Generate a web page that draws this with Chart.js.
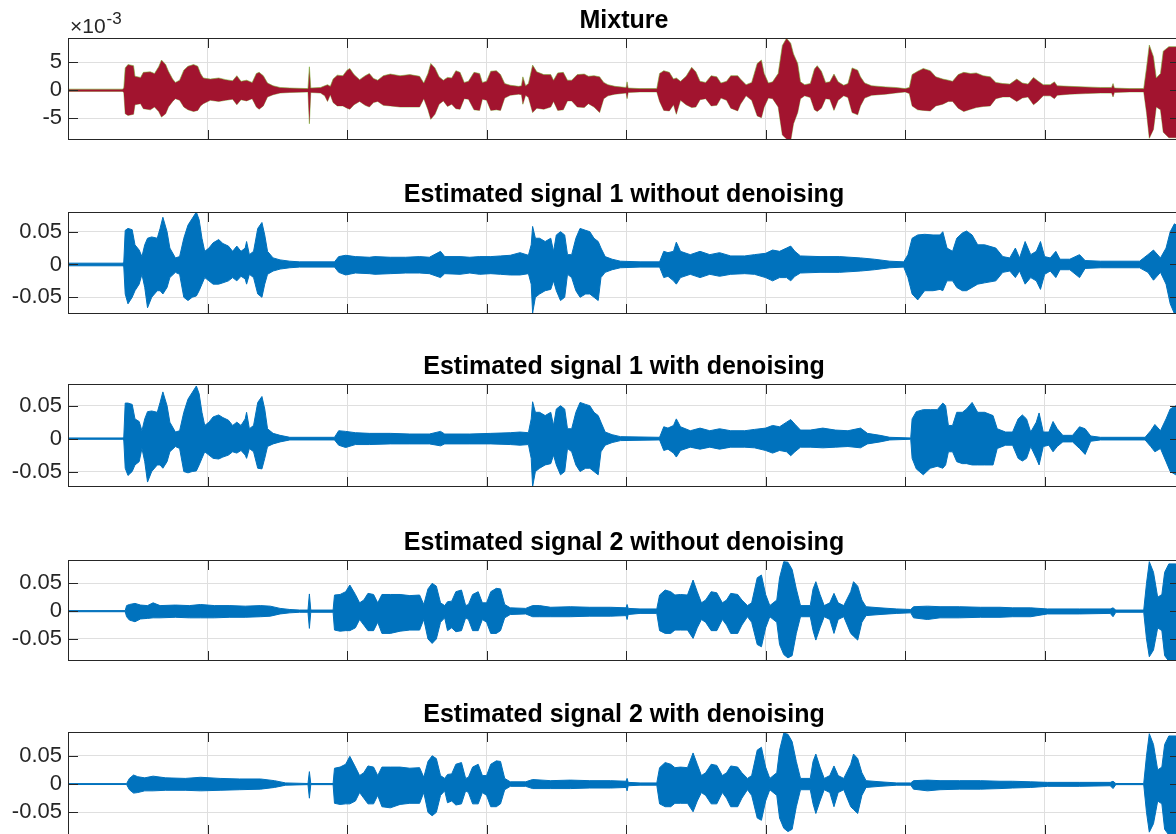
<!DOCTYPE html>
<html>
<head>
<meta charset="utf-8">
<title>Mixture and estimated signals</title>
<script src="https://cdn.jsdelivr.net/npm/chart.js@4.4.1/dist/chart.umd.min.js"></script>
<style>
  html, body { margin: 0; padding: 0; background: #fff; overflow: hidden; }
  .panel { position: absolute; left: 0; width: 1182px; }
</style>
</head>
<body>
<div class="panel" style="top:0px;height:142px"><canvas id="mix"></canvas></div>
<div class="panel" style="top:174px;height:142px"><canvas id="s1raw"></canvas></div>
<div class="panel" style="top:346px;height:143px"><canvas id="s1den"></canvas></div>
<div class="panel" style="top:522px;height:141px"><canvas id="s2raw"></canvas></div>
<div class="panel" style="top:694px;height:143px"><canvas id="s2den"></canvas></div>

<script>
// envelopes, one row per knot: [time, upper, lower]
// time is in grid steps (one vertical grid line per unit)

// mixture, in units of 10^-3
const mixtureEnv = [
  [0.00,.2,-.2],[0.39,.2,-.2],[0.40,.4,-.4],[0.41,4.0,-4.2],[0.43,4.6,-4.5],[0.47,4.4,-4.3],[0.48,2.5,-2.6],
  [0.52,2.3,-2.4],[0.54,3.2,-3.3],[0.59,3.3,-3.5],[0.62,3.0,-3.0],[0.65,4.2,-3.8],[0.67,5.4,-4.8],[0.70,4.6,-4.2],
  [0.72,3.4,-3.0],[0.75,2.0,-2.0],[0.77,1.4,-1.5],[0.80,1.8,-1.8],[0.83,3.6,-3.0],[0.86,4.3,-3.5],[0.90,4.6,-3.8],
  [0.93,4.3,-3.6],[0.95,3.0,-2.8],[0.97,2.2,-2.4],[1.02,2.0,-1.8],[1.08,2.2,-2.0],[1.13,1.9,-1.8],[1.18,1.7,-1.6],
  [1.21,2.6,-2.6],[1.24,1.6,-1.7],[1.28,1.8,-1.9],[1.32,1.4,-1.5],[1.35,3.0,-3.0],[1.37,3.2,-3.4],[1.40,2.6,-2.8],
  [1.43,1.3,-1.2],[1.47,.8,-.8],[1.52,.5,-.5],[1.59,.4,-.4],[1.72,.3,-.3],[1.73,4.2,-6.0],[1.74,.4,-.4],
  [1.81,.5,-.5],[1.84,.8,-1.0],[1.86,1.0,-2.0],[1.88,.7,-.8],[1.90,2.0,-2.2],[1.93,2.7,-2.8],[1.97,2.6,-2.8],
  [2.00,3.6,-3.2],[2.02,3.9,-3.4],[2.05,2.8,-2.6],[2.09,1.9,-2.0],[2.13,2.6,-2.7],[2.16,3.0,-3.0],[2.19,2.1,-2.2],
  [2.22,1.8,-2.0],[2.26,2.6,-2.7],[2.31,2.9,-2.8],[2.38,2.6,-3.0],[2.45,2.8,-3.0],[2.52,2.5,-3.0],[2.55,1.3,-1.5],
  [2.58,3.0,-3.5],[2.60,4.8,-5.2],[2.63,4.0,-4.3],[2.66,2.4,-2.5],[2.69,1.8,-1.9],[2.72,2.3,-2.9],[2.75,2.2,-2.5],
  [2.78,3.5,-3.3],[2.81,3.2,-3.4],[2.84,1.4,-1.5],[2.87,1.6,-1.6],[2.91,3.2,-3.5],[2.95,3.0,-3.6],[2.97,1.4,-1.6],
  [3.00,1.6,-1.8],[3.03,3.4,-3.6],[3.07,3.5,-3.5],[3.10,2.8,-3.6],[3.13,1.2,-1.4],[3.17,.9,-.9],[3.23,.7,-.7],
  [3.25,.8,-.8],[3.26,2.4,-2.5],[3.28,.8,-.9],[3.30,1.2,-1.3],[3.33,4.5,-4.0],[3.36,3.3,-3.2],[3.41,2.8,-3.4],
  [3.46,2.8,-3.0],[3.48,1.8,-2.0],[3.51,3.1,-3.6],[3.55,3.2,-3.5],[3.58,1.8,-1.9],[3.61,1.8,-1.9],[3.65,2.8,-3.0],
  [3.70,2.9,-3.1],[3.73,2.5,-2.4],[3.77,2.6,-3.0],[3.81,2.4,-4.0],[3.84,1.4,-1.5],[3.87,1.0,-1.0],[3.92,.7,-.7],
  [4.00,.5,-.5],[4.007,1.5,-1.5],[4.015,.4,-.4],[4.10,.3,-.3],[4.22,.3,-.3],[4.24,3.0,-2.0],[4.27,3.5,-3.6],
  [4.31,3.2,-3.7],[4.34,2.0,-2.6],[4.36,2.2,-4.3],[4.39,1.6,-1.8],[4.43,2.5,-2.6],[4.47,4.1,-3.1],[4.50,3.3,-3.0],
  [4.53,1.6,-1.7],[4.57,1.4,-1.5],[4.61,2.6,-2.8],[4.65,2.4,-2.7],[4.68,1.3,-1.4],[4.72,1.6,-1.8],[4.75,2.6,-3.2],
  [4.80,2.6,-3.7],[4.82,2.0,-2.5],[4.86,1.0,-1.0],[4.90,1.4,-1.8],[4.94,4.8,-4.6],[4.97,5.4,-4.9],[4.99,3.0,-3.0],
  [5.02,1.3,-1.4],[5.05,1.5,-1.5],[5.09,3.0,-3.0],[5.12,8.0,-8.0],[5.15,9.3,-8.7],[5.18,8.4,-9.0],[5.20,6.5,-6.0],
  [5.23,4.8,-4.0],[5.25,1.5,-1.5],[5.28,1.0,-1.0],[5.32,1.2,-1.3],[5.35,3.8,-3.5],[5.37,4.4,-3.8],[5.40,3.4,-3.2],
  [5.43,1.4,-1.5],[5.46,1.5,-1.6],[5.49,2.9,-3.6],[5.52,1.5,-1.8],[5.56,.9,-1.0],[5.59,1.2,-1.3],[5.62,4.0,-4.0],
  [5.66,3.6,-4.4],[5.68,2.4,-2.8],[5.71,1.3,-1.4],[5.76,.8,-.9],[5.86,.6,-.7],[5.93,.5,-.5],[6.00,.3,-.3],
  [6.03,.5,-.6],[6.05,2.8,-2.8],[6.09,3.4,-3.5],[6.13,3.9,-3.6],[6.18,3.5,-3.7],[6.22,2.4,-2.8],[6.27,2.0,-2.5],
  [6.31,1.8,-2.0],[6.34,1.6,-2.0],[6.38,2.8,-3.2],[6.42,3.2,-3.8],[6.47,3.0,-3.4],[6.51,3.1,-3.1],[6.56,2.6,-2.9],
  [6.61,2.4,-2.8],[6.65,1.4,-1.5],[6.70,1.2,-1.2],[6.75,1.1,-1.2],[6.80,2.0,-2.0],[6.84,1.3,-1.4],[6.88,1.1,-1.2],
  [6.92,2.3,-2.6],[6.95,1.7,-2.0],[6.99,1.0,-1.0],[7.04,1.0,-1.0],[7.07,1.5,-1.5],[7.09,.8,-.9],[7.18,.7,-.7],
  [7.29,.6,-.6],[7.40,.5,-.5],[7.48,.5,-.5],[7.49,1.2,-1.2],[7.50,.4,-.4],[7.61,.3,-.3],[7.71,.3,-.3],
  [7.73,4.0,-4.0],[7.75,8.1,-8.6],[7.78,6.0,-7.0],[7.80,2.2,-3.0],[7.83,3.0,-3.5],[7.85,7.0,-7.5],[7.89,7.8,-8.5],
  [7.94,7.8,-8.5],[7.98,7.0,-8.0]
];

const sig1RawEnv = [
  [0.00,.002,-.002],[0.39,.002,-.002],[0.40,.004,-.004],[0.41,.052,-.045],[0.43,.055,-.06],[0.46,.053,-.05],
  [0.48,.03,-.04],[0.51,.022,-.03],[0.53,.012,-.015],[0.55,.03,-.035],[0.57,.04,-.066],[0.60,.042,-.05],
  [0.64,.04,-.04],[0.66,.055,-.04],[0.68,.072,-.045],[0.71,.05,-.035],[0.73,.025,-.02],[0.77,.01,-.012],
  [0.80,.012,-.015],[0.83,.04,-.05],[0.86,.06,-.055],[0.89,.07,-.05],[0.92,.08,-.048],[0.94,.068,-.04],
  [0.96,.04,-.03],[0.98,.02,-.02],[1.01,.025,-.025],[1.04,.033,-.03],[1.08,.038,-.03],[1.11,.032,-.028],
  [1.15,.028,-.025],[1.18,.02,-.02],[1.21,.028,-.025],[1.24,.02,-.018],[1.27,.025,-.022],[1.28,.035,-.03],
  [1.30,.015,-.015],[1.33,.02,-.02],[1.36,.055,-.045],[1.39,.064,-.05],[1.41,.045,-.03],[1.43,.02,-.015],
  [1.47,.01,-.01],[1.52,.007,-.007],[1.59,.005,-.005],[1.66,.004,-.004],[1.91,.004,-.004],[1.94,.012,-.012],
  [1.99,.014,-.016],[2.06,.012,-.013],[2.16,.011,-.014],[2.20,.012,-.015],[2.31,.011,-.014],[2.42,.011,-.013],
  [2.52,.012,-.013],[2.59,.011,-.014],[2.67,.02,-.02],[2.70,.012,-.014],[2.81,.012,-.015],[2.88,.011,-.013],
  [2.95,.012,-.015],[3.03,.012,-.014],[3.10,.013,-.015],[3.17,.014,-.016],[3.24,.018,-.016],[3.30,.014,-.014],
  [3.32,.03,-.03],[3.33,.058,-.074],[3.35,.04,-.05],[3.38,.04,-.045],[3.42,.035,-.04],[3.46,.04,-.038],
  [3.48,.02,-.025],[3.50,.045,-.04],[3.53,.05,-.055],[3.56,.045,-.05],[3.58,.015,-.015],[3.61,.015,-.02],
  [3.64,.04,-.04],[3.67,.055,-.05],[3.71,.052,-.045],[3.74,.05,-.045],[3.77,.04,-.05],[3.80,.035,-.055],
  [3.82,.025,-.02],[3.85,.012,-.012],[3.90,.008,-.008],[3.96,.005,-.005],[4.10,.004,-.004],[4.24,.004,-.004],
  [4.27,.02,-.02],[4.30,.018,-.018],[4.34,.02,-.025],[4.36,.034,-.03],[4.39,.02,-.02],[4.46,.015,-.015],
  [4.53,.02,-.02],[4.60,.015,-.015],[4.67,.018,-.018],[4.75,.013,-.015],[4.85,.013,-.014],[4.92,.015,-.015],
  [5.00,.017,-.02],[5.05,.022,-.025],[5.10,.02,-.02],[5.15,.025,-.02],[5.18,.028,-.025],[5.21,.02,-.018],
  [5.25,.013,-.013],[5.39,.012,-.012],[5.53,.012,-.012],[5.68,.01,-.01],[5.78,.008,-.008],[5.89,.005,-.005],
  [5.99,.004,-.004],[6.02,.015,-.02],[6.05,.04,-.045],[6.09,.045,-.054],[6.14,.046,-.04],[6.20,.045,-.04],
  [6.25,.045,-.038],[6.27,.05,-.04],[6.30,.025,-.025],[6.34,.02,-.025],[6.37,.04,-.035],[6.41,.048,-.04],
  [6.44,.051,-.04],[6.48,.045,-.035],[6.52,.03,-.03],[6.57,.03,-.028],[6.65,.025,-.025],[6.70,.012,-.012],
  [6.75,.01,-.01],[6.79,.025,-.02],[6.82,.01,-.01],[6.86,.035,-.03],[6.90,.015,-.02],[6.94,.02,-.025],
  [6.97,.035,-.038],[7.00,.012,-.015],[7.04,.01,-.01],[7.08,.02,-.02],[7.11,.008,-.008],[7.18,.008,-.008],
  [7.25,.015,-.02],[7.29,.006,-.006],[7.40,.005,-.005],[7.68,.005,-.005],[7.74,.015,-.012],[7.78,.022,-.024],
  [7.83,.01,-.012],[7.87,.025,-.03],[7.90,.05,-.06],[7.93,.062,-.075],[7.98,.055,-.075]
];

const sig1DenEnv = [
  [0.00,.001,-.001],[0.39,.001,-.001],[0.40,.003,-.003],[0.41,.054,-.045],[0.43,.054,-.056],[0.46,.052,-.05],
  [0.48,.03,-.04],[0.51,.026,-.035],[0.53,.012,-.015],[0.55,.03,-.035],[0.57,.041,-.066],[0.60,.042,-.05],
  [0.64,.04,-.04],[0.66,.055,-.04],[0.68,.071,-.045],[0.71,.05,-.035],[0.73,.025,-.02],[0.77,.01,-.012],
  [0.80,.012,-.015],[0.83,.04,-.05],[0.86,.06,-.052],[0.89,.07,-.05],[0.92,.08,-.049],[0.94,.068,-.04],
  [0.96,.04,-.03],[0.98,.02,-.02],[1.01,.025,-.025],[1.04,.033,-.03],[1.08,.036,-.031],[1.11,.032,-.028],
  [1.15,.028,-.025],[1.18,.02,-.02],[1.21,.025,-.022],[1.24,.02,-.018],[1.27,.03,-.025],[1.28,.04,-.03],
  [1.30,.015,-.015],[1.33,.02,-.02],[1.36,.055,-.045],[1.39,.064,-.046],[1.41,.045,-.03],[1.43,.015,-.012],
  [1.47,.008,-.008],[1.52,.005,-.005],[1.59,.002,-.002],[1.91,.002,-.002],[1.94,.012,-.01],[1.99,.011,-.0135],
  [2.06,.009,-.009],[2.16,.008,-.009],[2.31,.008,-.008],[2.45,.007,-.008],[2.59,.007,-.008],[2.67,.011,-.011],
  [2.70,.007,-.008],[2.88,.007,-.008],[3.03,.008,-.008],[3.17,.009,-.009],[3.24,.01,-.01],[3.30,.009,-.009],
  [3.32,.03,-.03],[3.33,.056,-.073],[3.35,.04,-.05],[3.38,.04,-.045],[3.42,.035,-.04],[3.46,.04,-.038],
  [3.48,.02,-.025],[3.50,.045,-.04],[3.53,.05,-.055],[3.56,.045,-.05],[3.58,.015,-.015],[3.61,.015,-.02],
  [3.64,.04,-.04],[3.67,.055,-.05],[3.71,.052,-.045],[3.74,.05,-.045],[3.77,.04,-.05],[3.80,.035,-.055],
  [3.82,.025,-.02],[3.85,.01,-.01],[3.90,.006,-.006],[3.96,.003,-.003],[4.24,.002,-.002],[4.27,.018,-.018],
  [4.30,.016,-.016],[4.34,.02,-.022],[4.36,.03,-.028],[4.39,.018,-.018],[4.46,.012,-.013],[4.53,.016,-.016],
  [4.60,.012,-.013],[4.67,.015,-.016],[4.75,.012,-.013],[4.85,.012,-.013],[4.92,.014,-.014],[5.00,.016,-.018],
  [5.05,.02,-.022],[5.10,.018,-.018],[5.15,.025,-.02],[5.18,.029,-.026],[5.21,.022,-.02],[5.25,.013,-.013],
  [5.32,.013,-.013],[5.41,.016,-.014],[5.50,.013,-.013],[5.59,.012,-.012],[5.68,.016,-.014],[5.73,.008,-.008],
  [5.82,.005,-.005],[5.89,.002,-.002],[6.04,.001,-.001],[6.05,.03,-.03],[6.08,.041,-.046],[6.13,.044,-.055],
  [6.18,.044,-.045],[6.23,.044,-.042],[6.27,.054,-.045],[6.29,.05,-.04],[6.31,.02,-.02],[6.34,.02,-.02],
  [6.37,.04,-.035],[6.41,.04,-.038],[6.44,.045,-.038],[6.48,.055,-.04],[6.52,.04,-.04],[6.57,.04,-.04],
  [6.63,.035,-.04],[6.66,.015,-.015],[6.72,.01,-.01],[6.77,.01,-.01],[6.81,.03,-.03],[6.84,.036,-.034],
  [6.87,.03,-.03],[6.90,.01,-.012],[6.94,.025,-.03],[6.96,.039,-.04],[6.99,.01,-.012],[7.03,.01,-.01],
  [7.06,.026,-.02],[7.09,.015,-.012],[7.13,.005,-.005],[7.20,.005,-.005],[7.25,.018,-.015],[7.29,.015,-.024],
  [7.33,.004,-.004],[7.40,.002,-.002],[7.72,.002,-.002],[7.76,.012,-.012],[7.79,.0215,-.02],[7.83,.012,-.015],
  [7.87,.03,-.035],[7.90,.045,-.05],[7.94,.05,-.055],[7.98,.05,-.055]
];

const sig2RawEnv = [
  [0.00,.001,-.001],[0.41,.001,-.001],[0.42,.01,-.01],[0.44,.012,-.016],[0.48,.014,-.019],[0.52,.011,-.014],
  [0.57,.01,-.013],[0.61,.015,-.012],[0.66,.01,-.012],[0.77,.011,-.011],[0.87,.01,-.012],[0.95,.012,-.012],
  [1.05,.01,-.012],[1.16,.01,-.011],[1.27,.009,-.011],[1.38,.01,-.01],[1.45,.009,-.009],[1.52,.005,-.005],
  [1.59,.003,-.003],[1.66,.002,-.002],[1.72,.002,-.002],[1.73,.031,-.031],[1.74,.002,-.002],[1.90,.002,-.002],
  [1.91,.029,-.034],[1.95,.03,-.036],[1.99,.035,-.035],[2.02,.047,-.035],[2.06,.03,-.03],[2.09,.015,-.015],
  [2.12,.02,-.025],[2.15,.032,-.035],[2.19,.03,-.035],[2.22,.015,-.02],[2.25,.03,-.04],[2.31,.03,-.04],
  [2.38,.03,-.036],[2.45,.028,-.034],[2.52,.029,-.034],[2.55,.012,-.015],[2.58,.04,-.05],[2.61,.05,-.058],
  [2.64,.045,-.05],[2.67,.015,-.02],[2.70,.01,-.012],[2.72,.017,-.035],[2.75,.018,-.03],[2.78,.035,-.037],
  [2.82,.038,-.035],[2.85,.01,-.012],[2.87,.012,-.015],[2.90,.03,-.035],[2.94,.035,-.035],[2.97,.015,-.015],
  [3.00,.015,-.02],[3.03,.035,-.04],[3.07,.041,-.04],[3.10,.04,-.035],[3.13,.012,-.012],[3.17,.006,-.006],
  [3.28,.005,-.005],[3.33,.01,-.01],[3.38,.01,-.01],[3.46,.007,-.01],[3.60,.008,-.01],[3.74,.007,-.009],
  [3.89,.007,-.009],[4.00,.006,-.008],[4.007,.012,-.015],[4.015,.005,-.006],[4.10,.004,-.004],[4.22,.004,-.004],
  [4.24,.029,-.035],[4.28,.038,-.04],[4.32,.035,-.04],[4.35,.029,-.034],[4.39,.03,-.034],[4.44,.029,-.034],
  [4.48,.056,-.049],[4.51,.035,-.03],[4.54,.015,-.015],[4.57,.02,-.02],[4.61,.035,-.035],[4.65,.033,-.035],
  [4.69,.015,-.015],[4.72,.02,-.025],[4.75,.032,-.04],[4.80,.03,-.04],[4.83,.02,-.025],[4.87,.01,-.01],
  [4.90,.015,-.02],[4.94,.06,-.06],[4.97,.065,-.064],[5.00,.03,-.03],[5.03,.01,-.01],[5.08,.02,-.02],
  [5.10,.06,-.06],[5.13,.089,-.078],[5.16,.088,-.084],[5.19,.075,-.08],[5.22,.04,-.04],[5.25,.01,-.01],
  [5.32,.01,-.01],[5.34,.04,-.035],[5.36,.053,-.052],[5.39,.03,-.03],[5.42,.01,-.01],[5.46,.015,-.015],
  [5.49,.032,-.04],[5.52,.015,-.015],[5.56,.01,-.01],[5.61,.035,-.04],[5.63,.053,-.045],[5.66,.045,-.052],
  [5.69,.02,-.02],[5.72,.008,-.008],[5.82,.006,-.006],[5.94,.004,-.004],[6.04,.003,-.003],[6.06,.008,-.012],
  [6.16,.009,-.015],[6.25,.008,-.012],[6.39,.008,-.012],[6.54,.007,-.011],[6.68,.007,-.011],[6.77,.006,-.01],
  [6.90,.006,-.01],[7.02,.004,-.005],[7.25,.004,-.005],[7.47,.004,-.004],[7.49,.006,-.01],[7.51,.002,-.002],
  [7.71,.002,-.002],[7.73,.05,-.05],[7.75,.089,-.082],[7.78,.07,-.07],[7.81,.025,-.03],[7.84,.03,-.035],
  [7.86,.07,-.08],[7.89,.085,-.09],[7.94,.085,-.09],[7.98,.08,-.09]
];

const sig2DenEnv = [
  [0.00,.0008,-.0008],[0.42,.0008,-.0008],[0.44,.01,-.01],[0.47,.016,-.016],[0.50,.013,-.015],[0.55,.011,-.012],
  [0.61,.014,-.012],[0.70,.011,-.011],[0.84,.01,-.011],[0.95,.012,-.012],[1.09,.01,-.011],[1.23,.009,-.01],
  [1.38,.009,-.009],[1.48,.006,-.006],[1.56,.002,-.002],[1.72,.001,-.001],[1.73,.022,-.025],[1.74,.001,-.001],
  [1.90,.001,-.001],[1.91,.028,-.034],[1.95,.03,-.036],[1.99,.035,-.035],[2.02,.049,-.035],[2.06,.03,-.03],
  [2.09,.015,-.015],[2.12,.02,-.025],[2.15,.032,-.035],[2.19,.03,-.035],[2.22,.015,-.02],[2.25,.03,-.04],
  [2.31,.03,-.042],[2.38,.03,-.036],[2.45,.028,-.034],[2.52,.029,-.034],[2.55,.012,-.015],[2.58,.04,-.05],
  [2.61,.05,-.056],[2.64,.045,-.05],[2.67,.015,-.02],[2.70,.01,-.012],[2.72,.017,-.033],[2.75,.018,-.03],
  [2.78,.035,-.037],[2.82,.038,-.035],[2.85,.01,-.012],[2.87,.012,-.015],[2.90,.03,-.035],[2.94,.035,-.035],
  [2.97,.015,-.015],[3.00,.015,-.02],[3.03,.035,-.04],[3.07,.041,-.04],[3.10,.04,-.035],[3.13,.01,-.01],
  [3.17,.004,-.004],[3.28,.004,-.004],[3.33,.008,-.008],[3.46,.006,-.008],[3.60,.007,-.008],[3.74,.006,-.007],
  [3.89,.006,-.007],[4.00,.005,-.006],[4.007,.01,-.012],[4.015,.003,-.003],[4.10,.002,-.002],[4.22,.002,-.002],
  [4.24,.029,-.035],[4.28,.038,-.04],[4.32,.035,-.04],[4.35,.029,-.034],[4.39,.03,-.034],[4.44,.029,-.034],
  [4.48,.055,-.049],[4.51,.035,-.03],[4.54,.015,-.015],[4.57,.02,-.02],[4.61,.035,-.035],[4.65,.033,-.035],
  [4.69,.015,-.015],[4.72,.02,-.025],[4.75,.032,-.04],[4.80,.03,-.04],[4.83,.02,-.025],[4.87,.01,-.01],
  [4.90,.015,-.02],[4.94,.06,-.06],[4.97,.065,-.064],[5.00,.03,-.03],[5.03,.01,-.01],[5.08,.02,-.02],
  [5.10,.06,-.06],[5.13,.09,-.078],[5.16,.088,-.084],[5.19,.075,-.08],[5.22,.04,-.04],[5.25,.01,-.01],
  [5.32,.01,-.01],[5.34,.04,-.035],[5.36,.053,-.052],[5.39,.03,-.03],[5.42,.01,-.01],[5.46,.015,-.015],
  [5.49,.032,-.04],[5.52,.015,-.015],[5.56,.01,-.01],[5.61,.035,-.04],[5.63,.053,-.045],[5.66,.045,-.052],
  [5.69,.02,-.02],[5.72,.006,-.006],[5.82,.004,-.004],[5.94,.002,-.002],[6.04,.002,-.002],[6.06,.006,-.009],
  [6.16,.007,-.012],[6.25,.006,-.01],[6.39,.006,-.009],[6.54,.006,-.009],[6.68,.005,-.008],[6.77,.005,-.007],
  [6.90,.004,-.006],[7.02,.003,-.004],[7.25,.003,-.004],[7.47,.003,-.003],[7.49,.005,-.008],[7.51,.001,-.001],
  [7.71,.001,-.001],[7.73,.05,-.05],[7.75,.089,-.085],[7.78,.07,-.07],[7.81,.025,-.03],[7.84,.03,-.035],
  [7.86,.07,-.08],[7.89,.085,-.09],[7.94,.085,-.09],[7.98,.08,-.09]
];

const xGrid = [1, 2, 3, 4, 5, 6, 7];
const xMax = 7.97;
const mixTicks = [-5, 0, 5];
const sigTicks = [-0.05, 0, 0.05];

const FONT = '"Liberation Sans", Arial, Helvetica, sans-serif';
const GRID = '#dfdfdf';
const AXIS = '#262626';
const BLUE = '#0072BD';
const RED = '#A2142F';
const GREEN = 'rgba(119,172,48,0.6)';

// MATLAB style box with inward ticks on all four sides
const matlabBox = {
  id: 'matlabBox',
  afterDatasetsDraw(chart) {
    const { ctx, chartArea: a, scales: { x, y } } = chart;
    const len = 10;
    ctx.save();
    ctx.strokeStyle = AXIS;
    ctx.lineWidth = 1;
    ctx.strokeRect(Math.round(a.left) + 0.5, Math.round(a.top) + 0.5,
                   Math.round(a.width) - 1, Math.round(a.height) - 1);
    ctx.beginPath();
    x.ticks.forEach(t => {
      const px = Math.round(x.getPixelForValue(t.value)) + 0.5;
      ctx.moveTo(px, a.top); ctx.lineTo(px, a.top + len);
      ctx.moveTo(px, a.bottom); ctx.lineTo(px, a.bottom - len);
    });
    y.ticks.forEach(t => {
      const py = Math.round(y.getPixelForValue(t.value)) + 0.5;
      ctx.moveTo(a.left, py); ctx.lineTo(a.left + len, py);
      ctx.moveTo(a.right, py); ctx.lineTo(a.right - len, py);
    });
    ctx.stroke();
    ctx.restore();
  }
};

// the "x10^-3" factor above the mixture axis
const expLabel = {
  id: 'expLabel',
  afterDraw(chart) {
    const { ctx, chartArea: a } = chart;
    ctx.save();
    ctx.fillStyle = AXIS;
    ctx.textBaseline = 'alphabetic';
    ctx.font = '21px ' + FONT;
    ctx.fillText('\u00d710', a.left + 2, a.top - 5);
    const w = ctx.measureText('\u00d710').width;
    ctx.font = '17px ' + FONT;
    ctx.fillText('-3', a.left + 3 + w, a.top - 14);
    ctx.restore();
  }
};

function drawPanel(id, env, cfg) {
  const upper = env.map(r => ({ x: r[0], y: r[1] }));
  const lower = env.map(r => ({ x: r[0], y: r[2] }));
  const line = { pointRadius: 0, tension: 0, borderColor: cfg.edge, borderWidth: cfg.edgeWidth };

  new Chart(document.getElementById(id), {
    type: 'line',
    data: {
      datasets: [
        Object.assign({ data: upper, fill: '+1', backgroundColor: cfg.color }, line),
        Object.assign({ data: lower, fill: false }, line)
      ]
    },
    options: {
      responsive: true,
      maintainAspectRatio: false,
      animation: false,
      layout: { padding: { left: 0, right: 2, top: 0, bottom: 2 } },
      plugins: {
        legend: { display: false },
        tooltip: { enabled: false },
        title: {
          display: true,
          fullSize: false,
          text: cfg.title,
          color: '#000',
          font: { family: FONT, size: 25, weight: 'bold' },
          padding: { top: 6, bottom: 2 }
        }
      },
      scales: {
        x: {
          type: 'linear',
          min: 0,
          max: xMax,
          afterBuildTicks: s => { s.ticks = xGrid.map(v => ({ value: v })); },
          ticks: { display: false },
          grid: { color: GRID, drawTicks: false },
          border: { display: false }
        },
        y: {
          min: cfg.yMin,
          max: cfg.yMax,
          afterBuildTicks: s => { s.ticks = cfg.ticks.map(v => ({ value: v })); },
          afterFit: s => { s.width = 68; s.paddingTop = 0; s.paddingBottom = 0; },
          ticks: {
            color: AXIS,
            font: { family: FONT, size: 22 },
            padding: 6,
            callback: v => String(v)
          },
          grid: { color: GRID, drawTicks: false },
          border: { display: false }
        }
      }
    },
    plugins: cfg.withExp ? [matlabBox, expLabel] : [matlabBox]
  });
}

drawPanel('mix', mixtureEnv, {
  title: 'Mixture', yMin: -8.9, yMax: 9.35, ticks: mixTicks,
  color: RED, edge: GREEN, edgeWidth: 1, withExp: true
});
drawPanel('s1raw', sig1RawEnv, {
  title: 'Estimated signal 1 without denoising', yMin: -0.0755, yMax: 0.080, ticks: sigTicks,
  color: BLUE, edge: BLUE, edgeWidth: 1
});
drawPanel('s1den', sig1DenEnv, {
  title: 'Estimated signal 1 with denoising', yMin: -0.0735, yMax: 0.083, ticks: sigTicks,
  color: BLUE, edge: BLUE, edgeWidth: 1
});
drawPanel('s2raw', sig2RawEnv, {
  title: 'Estimated signal 2 without denoising', yMin: -0.0896, yMax: 0.092, ticks: sigTicks,
  color: BLUE, edge: BLUE, edgeWidth: 1
});
drawPanel('s2den', sig2DenEnv, {
  title: 'Estimated signal 2 with denoising', yMin: -0.090, yMax: 0.092, ticks: sigTicks,
  color: BLUE, edge: BLUE, edgeWidth: 1
});
</script>
</body>
</html>
